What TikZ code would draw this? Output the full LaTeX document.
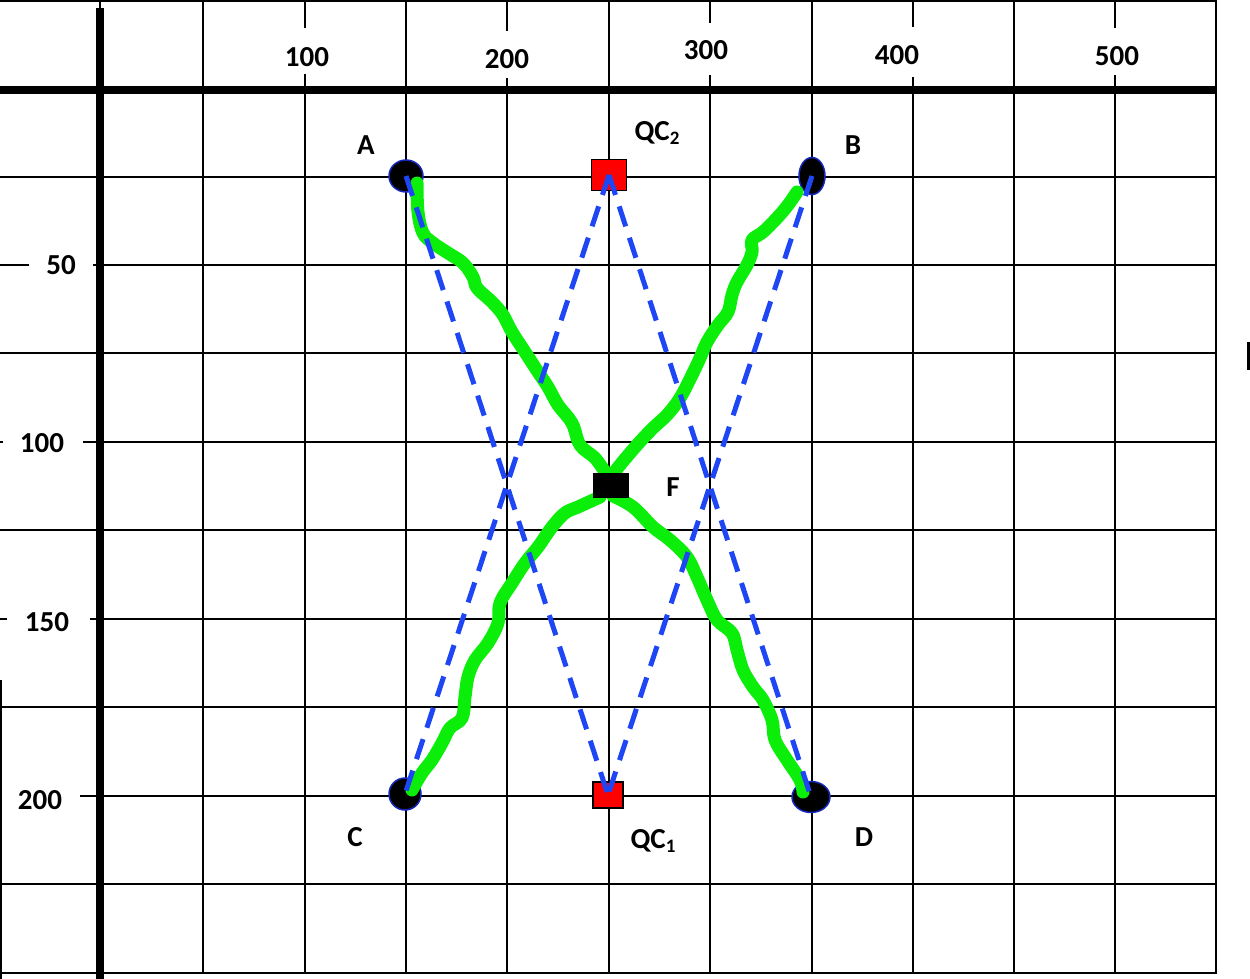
\documentclass[tikz,border=0pt]{standalone}
\usepackage{fontspec}
\setmainfont{Carlito}
\usetikzlibrary{shapes.geometric}
\pgfdeclarelayer{fg}
\pgfsetlayers{main,fg}
\definecolor{gline}{RGB}{10,238,10}
\definecolor{bline}{RGB}{30,70,245}
\definecolor{ptborder}{RGB}{20,40,190}
\begin{document}
\begin{tikzpicture}[x=1pt,y=-1pt,
  grid/.style={line width=2.4pt,black},
  axis/.style={line width=8.5pt,black},
  lbl/.style={font=\bfseries\fontsize{29}{29}\selectfont,inner sep=0pt},
  pt/.style={ellipse,fill=black,draw=ptborder,line width=1.5pt,inner sep=0pt},
  qc/.style={rectangle,fill=red,draw=black,line width=1.5pt,inner sep=0pt},
  fbox/.style={rectangle,fill=black,inner sep=0pt},
  greencurve/.style={draw=gline,line width=13pt,line cap=round,line join=round},
  bdash/.style={draw=bline,line width=5pt,dash pattern=on 21pt off 12pt}]
\useasboundingbox (0,0) rectangle (1250,979);
% horizontal grid lines
\foreach \y in {1,177,353,530,707,884,973} \draw[grid] (0,\y) -- (1217,\y);
\draw[grid] (0,265) -- (29,265) (93,265) -- (1217,265);
\draw[grid] (0,442) -- (3,442) (83,442) -- (1217,442);
\draw[grid] (0,619) -- (7,619) (90,619) -- (1217,619);
\draw[grid] (80,796) -- (1217,796);
% vertical grid lines
\foreach \x in {203,406,609,812,1014,1216} \draw[grid] (\x,0) -- (\x,973);
\draw[grid] (305,0) -- (305,28) (305,74) -- (305,973);
\draw[grid] (507,0) -- (507,31) (507,78) -- (507,973);
\draw[grid] (710,0) -- (710,23) (710,75) -- (710,973);
\draw[grid] (913,0) -- (913,27) (913,77) -- (913,973);
\draw[grid] (1115,0) -- (1115,28) (1115,75) -- (1115,973);
\draw[grid] (1,680) -- (1,979);
\draw[grid] (100,0) -- (100,8);
% axes
\draw[axis] (0,90) -- (1217,90);
\draw[axis] (100,8) -- (100,979);
\fill[black] (1247,342) rectangle (1250,370);
% axis labels
\node[lbl] (x100) at (307,57) {100};
\node[lbl] (x200) at (507,59) {200};
\node[lbl] (x300) at (706,50) {300};
\node[lbl] (x400) at (897,55) {400};
\node[lbl] (x500) at (1117,56) {500};
\node[lbl] (y50) at (61,265) {50};
\node[lbl] (y100) at (42,443) {100};
\node[lbl] (y150) at (47,622) {150};
\node[lbl] (y200) at (40,800) {200};
% points
\node[pt,minimum width=34pt,minimum height=32pt] (A) at (406,176) {};
\node[pt,minimum width=26pt,minimum height=37pt] (B) at (812,176) {};
\node[pt,minimum width=32pt,minimum height=32pt] (C) at (405,794) {};
\node[pt,minimum width=38pt,minimum height=31pt] (D) at (811,797) {};
\node[qc,minimum width=35pt,minimum height=31pt] (QC2) at (609,175) {};
\node[qc,minimum width=30pt,minimum height=26pt] (QC1) at (608,795) {};
\begin{pgfonlayer}{fg}
\node[fbox,minimum width=36pt,minimum height=25pt] (F) at (611,485) {};
\end{pgfonlayer}
% point labels
\node[lbl] (lA) at (366,145) {A};
\node[lbl] (lB) at (853,145) {B};
\node[lbl] (lC) at (355,837) {C};
\node[lbl] (lD) at (864,837) {D};
\node[lbl] (lF) at (673,487) {F};
\node[lbl] (lQC2) at (657,133) {QC\raisebox{-4pt}{\fontsize{19}{19}\selectfont 2}};
\node[lbl] (lQC1) at (653,841) {QC\raisebox{-4pt}{\fontsize{19}{19}\selectfont 1}};
% curve end coordinates
\coordinate (g1s) at ([shift={(11,7)}]A.center);
\coordinate (g1e) at ([shift={(-6,-13)}]F.center);
\coordinate (g2s) at ([shift={(-15,16)}]B.center);
\coordinate (g2e) at ([shift={(3,-12)}]F.center);
\coordinate (g3s) at ([shift={(-11,12)}]F.center);
\coordinate (g3e) at ([shift={(7,-4)}]C.center);
\coordinate (g4s) at ([shift={(2,11)}]F.center);
\coordinate (g4e) at ([shift={(-8,-5)}]D.center);
% green paths
\draw[greencurve] plot[smooth,tension=0.6] coordinates {(g1s) (418,212) (423,233) (433,243) (448,253) (463,263) (473,277) (477,288) (492,302) (503,315) (512,332) (525,352) (538,372) (548,387) (558,405) (572,423) (580,445) (595,458) (g1e)};
\draw[greencurve] plot[smooth,tension=0.6] coordinates {(g2s) (788,205) (777,218) (763,232) (752,240) (752,252) (747,265) (737,282) (732,295) (728,312) (718,325) (707,342) (700,358) (692,375) (680,398) (667,415) (653,428) (637,445) (620,465) (g2e)};
\draw[greencurve] plot[smooth,tension=0.6] coordinates {(g3s) (578,507) (565,513) (552,527) (538,547) (525,563) (512,583) (500,603) (498,623) (488,643) (475,660) (468,677) (465,697) (462,718) (450,728) (442,743) (432,760) (422,773) (g3e)};
\draw[greencurve] plot[smooth,tension=0.6] coordinates {(g4s) (633,507) (653,527) (670,540) (687,557) (697,577) (707,600) (717,620) (732,633) (737,650) (743,670) (753,687) (763,700) (772,720) (775,740) (787,760) (800,780) (g4e)};
% blue dashed lines
\draw[bdash] (A.center) -- (QC1.center);
\draw[bdash] (QC2.center) -- (C.center);
\draw[bdash] (QC2.center) -- (D.center);
\draw[bdash] (B.center) -- (QC1.center);
\end{tikzpicture}
\end{document}
